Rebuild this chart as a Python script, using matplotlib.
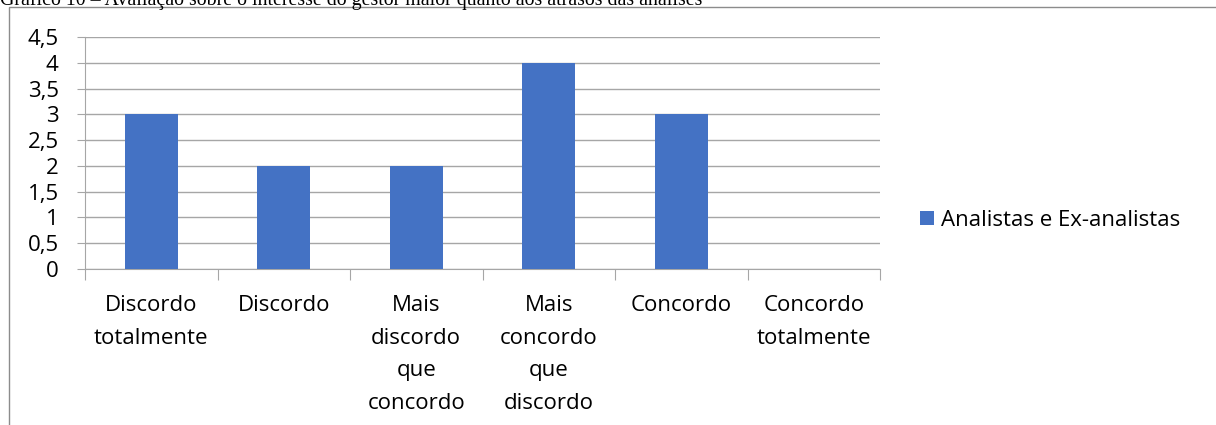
import matplotlib.pyplot as plt
from matplotlib.patches import Rectangle
import numpy as np

categorias = ['Discordo\ntotalmente', 'Discordo', 'Mais\ndiscordo\nque\nconcordo',
              'Mais\nconcordo\nque\ndiscordo', 'Concordo', 'Concordo\ntotalmente']
valores = [3, 2, 2, 4, 3, 0]
serie = 'Analistas e Ex-analistas'
yticks = [0, 0.5, 1, 1.5, 2, 2.5, 3, 3.5, 4, 4.5]
titulo = 'Gráfico 10 – Avaliação sobre o interesse do gestor maior quanto aos atrasos das análises'

W, H = 1216, 425
fig = plt.figure(figsize=(W / 100, H / 100), dpi=100)
plt.rcParams['font.family'] = ['Open Sans', 'DejaVu Sans']
fs = 16

# moldura do gráfico
fig.patches.append(Rectangle((9 / W, -0.1), 1.2, 1.1 - 7 / H, transform=fig.transFigure,
                             fill=False, edgecolor='#8c8c8c', lw=1))
fig.text(0, 1 - 5 / H, titulo, family='Liberation Serif', fontsize=14.3, va='baseline', ha='left')

ax = fig.add_axes([85 / W, 1 - 269 / H, (880 - 85) / W, (269 - 37) / H])
x = np.arange(len(categorias))
ax.bar(x, valores, width=0.4, color='#4472C4', label=serie, zorder=3)
ax.set_xlim(-0.5, len(categorias) - 0.5)
ax.set_ylim(0, 4.5)
ax.set_yticks(yticks)
ax.set_yticklabels([f'{v:g}'.replace('.', ',') for v in yticks], fontsize=fs)
ax.yaxis.grid(True, color='#a6a6a6', lw=1, zorder=0)
ax.tick_params(axis='y', length=6, color='#a6a6a6', pad=13)
ax.set_xticks(np.arange(-0.5, len(categorias), 1))
ax.set_xticklabels([])
ax.set_xticks(x, minor=True)
ax.set_xticklabels(categorias, minor=True, fontsize=fs, linespacing=1.72, va='top')
ax.tick_params(axis='x', which='major', length=8, color='#a6a6a6')
ax.tick_params(axis='x', which='minor', length=0, pad=19)
for s in ['top', 'right']:
    ax.spines[s].set_visible(False)
for s in ['left', 'bottom']:
    ax.spines[s].set_color('#a6a6a6')

ax.legend(loc='center left', bbox_to_anchor=(1.025, 0.21), frameon=False, fontsize=fs,
          handlelength=0.65, handleheight=0.65, handletextpad=0.3)

fig.savefig('out.png', dpi=100)
